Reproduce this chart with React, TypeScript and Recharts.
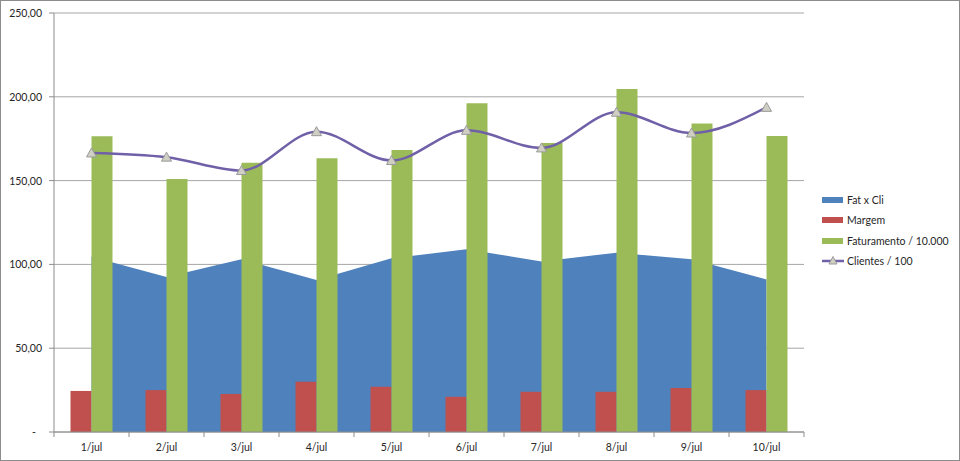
import {
  ComposedChart,
  Area,
  Bar,
  Line,
  XAxis,
  YAxis,
  CartesianGrid,
  Legend,
} from 'recharts';

// valores
const categories = ['1/jul', '2/jul', '3/jul', '4/jul', '5/jul', '6/jul', '7/jul', '8/jul', '9/jul', '10/jul'];
const fatCli = [104.5, 92.5, 103, 90.7, 103.6, 109, 101.8, 107, 103, 91];
const margem = [24.5, 25, 22.7, 30, 27, 21, 24, 24, 26.3, 25];
const faturamento = [176.5, 151, 160.7, 163.3, 168.3, 196.2, 172.4, 204.7, 184, 176.6];
const clientes = [166.5, 164, 156, 179.2, 162, 180, 169.5, 190.8, 178.4, 193.7];
const yTicks = [0, 50, 100, 150, 200, 250];

const seriesOrder = ['fatCli', 'margem', 'faturamento', 'clientes'];

const COLORS = {
  fatCli: '#4F81BD',
  margem: '#C0504D',
  faturamento: '#9BBB59',
  clientes: '#7060A8',
};

const FONT = 'Lato, "Open Sans", sans-serif';
const TEXT = '#262626';
const AXIS = '#8C8C8C';

const data = categories.map((day, i) => ({
  day,
  fatCli: fatCli[i],
  margem: margem[i],
  faturamento: faturamento[i],
  clientes: clientes[i],
}));

const formatY = (v: number) => (v === 0 ? '-' : v.toFixed(2).replace('.', ','));

const YTick = (props: any) => {
  const { x, y, payload } = props;
  const isZero = payload.value === 0;
  return (
    <text x={x} y={y} dx={isZero ? -6 : 0} dy={4} textAnchor="end" fill={TEXT} fontSize={10.5} fontFamily={FONT}>
      {formatY(payload.value)}
    </text>
  );
};

// rotulo no centro da categoria, marcas de escala entre as categorias
const XTick = (props: any) => {
  const { x, y, payload, index } = props;
  const half = payload.offset || 37.5;
  const axisY = y - 10;
  return (
    <g>
      <line x1={x - half} x2={x - half} y1={axisY} y2={axisY + 5} stroke={AXIS} />
      {index === categories.length - 1 && (
        <line x1={x + half} x2={x + half} y1={axisY} y2={axisY + 5} stroke={AXIS} />
      )}
      <text x={x} y={y} dy={9} textAnchor="middle" fill={TEXT} fontSize={10.5} fontFamily={FONT}>
        {payload.value}
      </text>
    </g>
  );
};

const Triangle = (props: any) => {
  const { cx, cy, index } = props;
  if (cx == null || cy == null) return <g key={`t-${index}`} />;
  return (
    <polygon
      key={`t-${index}`}
      points={`${cx},${cy - 5} ${cx + 5},${cy + 4} ${cx - 5},${cy + 4}`}
      fill="#CFCFC4"
      stroke="#9A9A9A"
      strokeWidth={1}
    />
  );
};

const renderLegend = (props: any) => {
  const payload = [...(props.payload || [])].sort(
    (a: any, b: any) => seriesOrder.indexOf(a.dataKey) - seriesOrder.indexOf(b.dataKey)
  );
  return (
    <ul style={{ listStyle: 'none', margin: 0, padding: 0 }}>
      {payload.map((entry: any) => (
        <li
          key={entry.value}
          style={{ height: 20.3, display: 'flex', alignItems: 'center', fontFamily: FONT, fontSize: 10.5, color: TEXT }}
        >
          <svg width={24} height={10} style={{ marginRight: 1 }}>
            {entry.type === 'line' ? (
              <g>
                <line x1={0} x2={22} y1={5} y2={5} stroke={entry.color} strokeWidth={2.5} />
                <polygon points="11,0.5 15,8 7,8" fill="#CFCFC4" stroke="#9A9A9A" />
              </g>
            ) : (
              <rect x={0} y={2} width={21} height={6} fill={entry.color} />
            )}
          </svg>
          <span>{entry.value}</span>
        </li>
      ))}
    </ul>
  );
};

export default function App() {
  return (
    <div
      style={{
        position: 'absolute',
        left: 0,
        top: 0,
        width: 960,
        height: 461,
        border: '1px solid #8C8C8C',
        boxSizing: 'border-box',
        background: '#fff',
      }}
    >
      <ComposedChart
        width={958}
        height={459}
        data={data}
        margin={{ top: 12, right: 25, left: 0, bottom: 0 }}
        barGap={0}
        barCategoryGap="22%"
      >
        <CartesianGrid vertical={false} stroke="#A6A6A6" />
        <XAxis
          dataKey="day"
          height={28}
          tickLine={false}
          tickSize={0}
          tickMargin={10}
          axisLine={{ stroke: AXIS }}
          tick={<XTick />}
          interval={0}
        />
        <YAxis
          width={53}
          domain={[0, 250]}
          ticks={yTicks}
          tickSize={5}
          tickMargin={7}
          tickLine={{ stroke: AXIS }}
          axisLine={{ stroke: AXIS }}
          tick={<YTick />}
        />
        <Legend
          layout="vertical"
          align="right"
          verticalAlign="top"
          width={130}
          content={renderLegend}
          wrapperStyle={{ right: 7, top: 189 }}
        />
        <Area
          dataKey="fatCli"
          name="Fat x Cli"
          type="linear"
          stroke="none"
          fill={COLORS.fatCli}
          fillOpacity={1}
          legendType="rect"
          isAnimationActive={false}
        />
        <Bar dataKey="margem" name="Margem" fill={COLORS.margem} legendType="rect" isAnimationActive={false} />
        <Bar
          dataKey="faturamento"
          name="Faturamento / 10.000"
          fill={COLORS.faturamento}
          legendType="rect"
          isAnimationActive={false}
        />
        <Line
          dataKey="clientes"
          name="Clientes / 100"
          type="monotone"
          stroke={COLORS.clientes}
          strokeWidth={2.5}
          dot={Triangle}
          activeDot={false}
          legendType="line"
          isAnimationActive={false}
        />
      </ComposedChart>
    </div>
  );
}
